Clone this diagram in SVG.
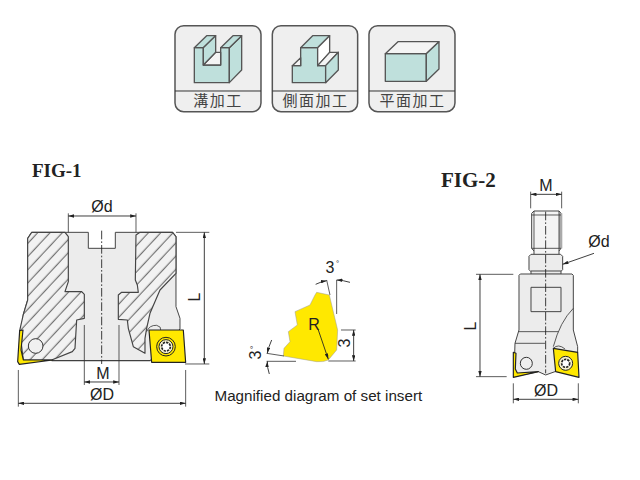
<svg xmlns="http://www.w3.org/2000/svg" width="640" height="480" viewBox="0 0 640 480">
<style>
text{font-family:"Liberation Sans",Arial,sans-serif;fill:#222;font-size:16px}
.fig{font-family:"Liberation Serif",serif;font-weight:bold;fill:#222}
.cjk{font-family:"Noto Sans CJK TC","Noto Sans CJK SC",sans-serif;font-size:15px;letter-spacing:1.500px;fill:#444;text-anchor:middle}
.mid{text-anchor:middle}
.card{fill:#efefef;stroke:#555;stroke-width:4.5}
.sep{stroke:#333;stroke-width:3;fill:none}
.tl{fill:#bfe0dc;stroke:#555;stroke-width:4;stroke-linejoin:round}
.wh{fill:#f4f4f4;stroke:#555;stroke-width:4;stroke-linejoin:round}
.thin{fill:none;stroke:#333;stroke-width:2.4}
.dim{fill:none;stroke:#222;stroke-width:2.6;marker-start:url(#a);marker-end:url(#a)}
.dim1{fill:none;stroke:#222;stroke-width:2.6;marker-end:url(#a)}
.cl{fill:none;stroke:#222;stroke-width:2.6;stroke-dasharray:26 6 5 6}
.body{fill:#ececec;stroke:#444;stroke-width:3;stroke-linejoin:round}
.hat{fill:url(#h);stroke:#444;stroke-width:3.500;stroke-linejoin:round}
.y{fill:#ffe800;stroke:#222;stroke-width:3.500;stroke-linejoin:round}
</style>
<defs>
<marker id="a" viewBox="0 0 10 6" refX="10" refY="3" markerWidth="7" markerHeight="4" orient="auto-start-reverse"><path d="M0 0L10 3L0 6Z" fill="#222"/></marker>
<pattern id="h" width="27" height="27" patternUnits="userSpaceOnUse" patternTransform="rotate(-47)"><rect width="27" height="27" fill="#f2f2f2"/><line x1="0" y1="13" x2="27" y2="13" stroke="#333" stroke-width="2.400"/></pattern>
</defs>

<g id="card-slot" transform="translate(165 15) scale(.3333)">
<rect class="card" x="30" y="32" width="258" height="258" rx="26"/>
<line class="sep" x1="30" y1="228" x2="288" y2="228"/>
<path class="tl" d="M88 98H115V150H167V98H193V203H88Z"/>
<path class="tl" d="M193 98L230 62V165L193 203Z"/>
<path class="tl" d="M88 98L125 62H152L115 98Z"/>
<path class="tl" d="M167 98L204 62H230L193 98Z"/>
<path class="wh" d="M115 150L152 112H167V150Z"/>
<path class="tl" d="M115 98L152 62V112L115 150Z"/>
</g>
<text class="cjk" x="218" y="106">溝加工</text>

<g id="card-side" transform="translate(165 15) scale(.3333)">
<rect class="card" x="322" y="32" width="256" height="258" rx="26"/>
<line class="sep" x1="322" y1="228" x2="578" y2="228"/>
<path class="tl" d="M382 152H407V98H458V152H482V203H382Z"/>
<path class="wh" d="M407 98L443 62H494L458 98Z" style="fill:#bfe0dc"/>
<path class="wh" d="M458 98L494 62V112L458 152Z" style="fill:#fff"/>
<path class="tl" d="M458 152L494 112H520L482 152Z" style="fill:#f4f4f4"/>
<path class="tl" d="M482 152L520 112V165L482 203Z"/>
<path class="wh" d="M382 152L407 128V152Z"/>
</g>
<text class="cjk" x="315.500" y="106">側面加工</text>

<g id="card-face" transform="translate(165 15) scale(.3333)">
<rect class="card" x="612" y="32" width="258" height="258" rx="26"/>
<line class="sep" x1="612" y1="228" x2="870" y2="228"/>
<path class="tl" d="M661 116H784V199H661Z"/>
<path class="wh" d="M661 116L699 80H822L784 116Z"/>
<path class="tl" d="M784 116L822 80V162L784 199Z"/>
</g>
<text class="cjk" x="412.500" y="106">平面加工</text>

<text id="fig1-label" class="fig" x="32" y="177" style="font-size:19px">FIG-1</text>
<text id="fig2-label" class="fig" x="441" y="187" style="font-size:21px">FIG-2</text>

<g id="fig1-cutter" transform="translate(10 190) scale(.3333)">
<path class="body" d="M65 127H235V175H316V127H488L498 140V350L510 385V417L420 512H125L33 425L40 373L53 330V145Z"/>
<path class="hat" d="M53 145L65 127H165L175 140V275L165 305H215L223 313V385L200 390L195 475L187 485L125 510L40 510L29 422L40 373L53 330Z"/>
<path class="hat" d="M378 135L390 127H488L498 140V250L450 300L420 370L410 415L405 445V490L370 470L355 415L352 390L325 388V315L335 307H385L382 285L376 270Z"/>
<line class="thin" x1="125" y1="512" x2="425" y2="512"/>
<circle cx="77" cy="468" r="22" fill="#f0f0f0" stroke="#333" stroke-width="3"/>
<path class="y" d="M29 422L39 420L33 480L40 510L128 510L28 523L23 515Z"/>
<path class="thin" d="M410 425Q418 405 440 406Q455 410 452 420"/>
<path class="y" d="M417 420H520L527 517L425 517Z"/>
<circle cx="468" cy="470" r="28" fill="#ffe800" stroke="#222" stroke-width="3"/>
<circle cx="468" cy="470" r="21" fill="#f6f1cf" stroke="#222" stroke-width="3"/>
<circle cx="468" cy="470" r="13" fill="#fff" stroke="#222" stroke-width="5" stroke-dasharray="7 3"/>
</g>

<g id="fig1-insert" transform="translate(210 250) scale(.3333)">
<path d="M320 127L358 135L383 240L380 300L355 330Q340 337 320 335L220 318L222 295L240 275L235 245L262 225L255 185L300 165L315 135Z" fill="#ffe800" stroke="#999" stroke-width="1.500"/>
</g>

<g id="fig2-cutter" transform="translate(440 165) scale(.3333)">
<path class="body" d="M282 138H357L363 145V250L357 258V270H282V258L275 250V145Z" style="fill:#f4f4f4"/>
<rect x="357" y="145" width="10" height="105" fill="#aaa"/>
<path class="thin" d="M275 150H363M282 138V258M357 138V258M275 250H363"/>
<path class="body" d="M273 268H362L368 274V314L362 320H273L267 314V274Z"/>
<rect class="body" x="273" y="318" width="90" height="10"/>
<path class="body" d="M241 327H396L400 331V495L413 545V562L345 620L317 630L295 620L222 635L225 535L237 495V331Z"/>
<rect class="body" x="273" y="367" width="90" height="73"/>
<path class="thin" d="M237 500H355M400 430Q360 470 340 545M225 535H315"/>
<circle cx="259" cy="595" r="18" fill="#f0f0f0" stroke="#333" stroke-width="3"/>
<path class="y" d="M220 562L228 565L226 612L232 624L295 620L220 637Z"/>
<path class="thin" d="M340 550Q355 535 375 552"/>
<path class="y" d="M340 550L413 562L417 637L347 620Z"/>
<circle cx="377" cy="595" r="21" fill="#f6f1cf" stroke="#222" stroke-width="3"/>
<circle cx="377" cy="595" r="12" fill="#fff" stroke="#222" stroke-width="5" stroke-dasharray="7 3"/>
</g>

<g id="connectors">
<g transform="translate(10 190) scale(.3333)">
<line class="cl" x1="275" y1="122" x2="275" y2="522"/>
<path class="thin" d="M175 70V127M378 70V127M223 405V585M327 405V585M25 540V650M527 540V650M498 127H598M525 522H598"/>
<line class="dim" x1="175" y1="78" x2="378" y2="78"/>
<line class="dim" x1="223" y1="576" x2="327" y2="576"/>
<line class="dim" x1="25" y1="640" x2="527" y2="640"/>
<line class="dim" x1="583" y1="127" x2="583" y2="522"/>
</g>
<g transform="translate(210 250) scale(.3333)">
<path class="thin" d="M350 90L360 135M380 90V192M393 240H437M355 333H437M170 310L222 318M170 334H258"/>
<path class="dim1" d="M317 103Q333 95 350 92"/>
<path class="dim1" d="M420 97Q400 91 380 90"/>
<line class="dim" x1="431" y1="240" x2="431" y2="333"/>
<path class="dim1" d="M185 270Q176 290 172 310"/>
<path class="dim1" d="M178 372Q171 352 172 334"/>
<line class="dim1" x1="325" y1="240" x2="355" y2="328"/>
</g>
<g transform="translate(440 165) scale(.3333)">
<line class="cl" x1="317" y1="140" x2="317" y2="625"/>
<path class="thin" d="M272 80V130M365 80V130M108 328H220M108 635H200M220 655V715M415 655V715"/>
<line class="dim" x1="272" y1="88" x2="365" y2="88"/>
<line class="dim" x1="120" y1="328" x2="120" y2="635"/>
<line class="dim" x1="220" y1="703" x2="415" y2="703"/>
<line class="dim1" x1="462" y1="265" x2="368" y2="298"/>
</g>
</g>

<g id="labels">
<text class="mid" x="102" y="212">Ød</text>
<text class="mid" x="103" y="379">M</text>
<text class="mid" x="102" y="400">ØD</text>
<text class="mid" transform="translate(200 297) rotate(-90)">L</text>
<text class="mid" x="314" y="330">R</text>
<text class="mid" x="330" y="273">3</text>
<text x="336" y="266" style="font-size:8px">°</text>
<text class="mid" transform="translate(350 343) rotate(-90)">3</text>
<text class="mid" transform="translate(261 355) rotate(-90)">3</text>
<text transform="translate(256 349) rotate(-90)" style="font-size:8px">°</text>
<text x="214.500" y="401" style="font-size:15.200px">Magnified diagram of set insert</text>
<text class="mid" x="546" y="191">M</text>
<text class="mid" x="599" y="247">Ød</text>
<text class="mid" transform="translate(476 326) rotate(-90)">L</text>
<text class="mid" x="546" y="396">ØD</text>
</g>
</svg>
